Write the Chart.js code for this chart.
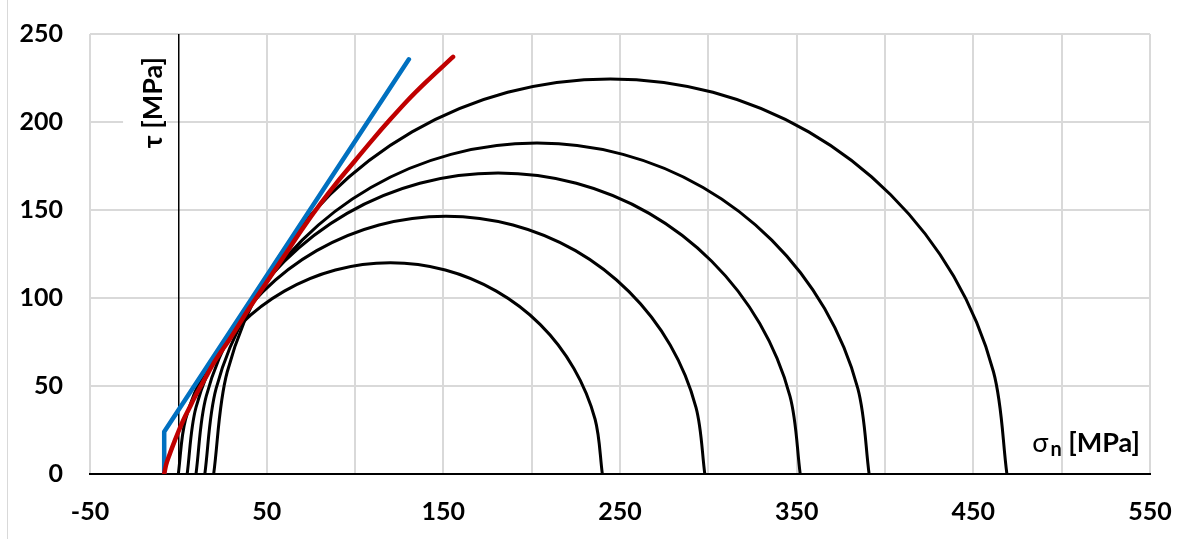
<!DOCTYPE html>
<html>
<head>
<meta charset="utf-8">
<script src="https://cdn.jsdelivr.net/npm/chart.js@4.4.1/dist/chart.umd.min.js"></script>
<style>
  html, body { margin: 0; padding: 0; background: #fff; }
  #wrap { position: relative; width: 1188px; height: 539px; }
  #edge { position: absolute; left: 7px; top: 0; width: 1px; height: 539px; background: #d9d9d9; }
</style>
</head>
<body>
<div id="wrap">
  <div id="edge"></div>
  <canvas id="mohrChart"></canvas>
</div>
<script>
// Mohr circles, [sigma_n, tau] in MPa
const circle1 = [[0,0],[4.1,31.1],[16.1,60],[35.1,84.9],[60,103.9],[88.9,115.9],[120,120],[151.1,115.9],[180,103.9],[204.9,84.9],[223.9,60],[235.9,31.1],[240,0]];
const circle2 = [[5,0],[10,37.9],[24.6,73.3],[47.9,103.6],[78.3,126.9],[113.6,141.5],[151.5,146.5],[189.4,141.5],[224.8,126.9],[255.1,103.6],[278.4,73.3],[293,37.9],[298,0]];
const circle3 = [[10,0],[15.8,44.3],[32.9,85.5],[60.1,120.9],[95.5,148.1],[136.7,165.2],[181,171],[225.3,165.2],[266.5,148.1],[301.9,120.9],[329.1,85.5],[346.2,44.3],[352,0]];
const circle4 = [[15,0],[21.4,48.7],[40.2,94],[70.1,132.9],[109,162.8],[154.3,181.6],[203,188],[251.7,181.6],[297,162.8],[335.9,132.9],[365.8,94],[384.6,48.7],[391,0]];
const circle5 = [[20,0],[27.7,58.1],[50.1,112.3],[85.8,158.7],[132.3,194.4],[186.4,216.9],[244.5,224.5],[302.6,216.9],[356.8,194.4],[403.2,158.7],[438.9,112.3],[461.4,58.1],[469,0]];

// failure envelopes
const linearEnvelope = [[-8,0],[-8,24],[130.5,235.6]];
const curvedEnvelope = [[-8,0],[-7,5],[-5,11],[-2,19],[0,24],[3,31],[6,37],[10,45],[15,54],[20,63],[30,78],[40,94],[50,109],[60,124],[70,139],[80,153],[90,166],[100,178],[110,190],[120,201.5],[130,212.5],[140,222.5],[155.5,237]];

const xTickLabels = [-50, 50, 150, 250, 350, 450, 550];
const yTickLabels = [0, 50, 100, 150, 200, 250];

const fam = 'Lato, "Noto Sans", sans-serif';
const toPoints = arr => arr.map(p => ({ x: p[0], y: p[1] }));

const circleSet = (pts) => ({
    data: toPoints(pts),
    showLine: true,
    borderColor: '#000',
    borderWidth: 3,
    pointRadius: 0,
    tension: 0.33,
    fill: false
});

// text labels inside the plot
const axisNotes = {
    id: 'axisNotes',
    afterDraw(chart) {
        const ctx = chart.ctx;
        const x = chart.scales.x, y = chart.scales.y;
        ctx.save();
        ctx.fillStyle = '#000';

        // tau label, rotated
        const cx = x.getPixelForValue(-14.3);
        const cy = y.getPixelForValue(211);
        ctx.translate(cx, cy);
        ctx.rotate(-Math.PI / 2);
        ctx.font = 'bold 27px ' + fam;
        ctx.textAlign = 'center';
        ctx.textBaseline = 'middle';
        const w = ctx.measureText('τ [MPa]').width;
        ctx.fillStyle = '#fff';
        ctx.fillRect(-w / 2 - 4, -30, w + 8, 44);
        ctx.fillStyle = '#000';
        ctx.fillText('τ [MPa]', 0, 0);
        ctx.setTransform(1, 0, 0, 1, 0, 0);

        // sigma_n label
        const right = x.getPixelForValue(544.3);
        const base = y.getPixelForValue(12.7);
        ctx.textAlign = 'left';
        ctx.textBaseline = 'alphabetic';
        ctx.font = 'bold 27px ' + fam;
        const unit = ' [MPa]';
        const wUnit = ctx.measureText(unit).width;
        ctx.fillText(unit, right - wUnit, base);
        ctx.font = 'bold 20px ' + fam;
        const wSub = ctx.measureText('n').width;
        ctx.fillText('n', right - wUnit - wSub, base + 4);
        ctx.font = '27px ' + fam;
        const wSig = ctx.measureText('σ').width;
        ctx.fillText('σ', right - wUnit - wSub - 2 - wSig, base);
        ctx.restore();
    }
};

new Chart(document.getElementById('mohrChart'), {
    type: 'scatter',
    data: {
        datasets: [
            {
                label: 'curved',
                data: toPoints(curvedEnvelope),
                showLine: true,
                borderColor: '#C00000',
                borderWidth: 4.5,
                borderCapStyle: 'round',
                pointRadius: 0,
                cubicInterpolationMode: 'monotone'
            },
            {
                label: 'linear',
                data: toPoints(linearEnvelope),
                showLine: true,
                borderColor: '#0070C0',
                borderWidth: 4.5,
                borderCapStyle: 'round',
                borderJoinStyle: 'round',
                pointRadius: 0,
                tension: 0
            },
            circleSet(circle1),
            circleSet(circle2),
            circleSet(circle3),
            circleSet(circle4),
            circleSet(circle5)
        ]
    },
    options: {
        responsive: true,
        maintainAspectRatio: false,
        animation: false,
        events: [],
        layout: { padding: { top: 34, right: 38, left: 0, bottom: 0 } },
        plugins: {
            legend: { display: false },
            tooltip: { enabled: false }
        },
        scales: {
            x: {
                type: 'linear',
                min: -50,
                max: 550,
                afterFit: s => { s.height = 65; s.paddingLeft = 0; s.paddingRight = 0; },
                border: { display: true, color: '#000', width: 2 },
                grid: {
                    drawTicks: false,
                    color: c => (c.tick && c.tick.value === 0) ? '#000' : '#d9d9d9',
                    lineWidth: c => (c.tick && c.tick.value === 0) ? 1.5 : 2
                },
                ticks: {
                    stepSize: 50,
                    autoSkip: false,
                    maxRotation: 0,
                    padding: 23,
                    color: '#000',
                    font: { family: fam, size: 25, weight: 'bold' },
                    callback: v => xTickLabels.includes(v) ? String(v) : ''
                }
            },
            y: {
                min: 0,
                max: 250,
                afterFit: s => { s.width = 90; s.paddingTop = 0; s.paddingBottom = 0; },
                border: { display: false },
                grid: { drawTicks: false, color: '#d9d9d9', lineWidth: 2, z: -2 },
                ticks: {
                    stepSize: 50,
                    padding: 27,
                    color: '#000',
                    font: { family: fam, size: 25, weight: 'bold' },
                    callback: v => yTickLabels.includes(v) ? String(v) : ''
                }
            }
        }
    },
    plugins: [axisNotes]
});
</script>
</body>
</html>
